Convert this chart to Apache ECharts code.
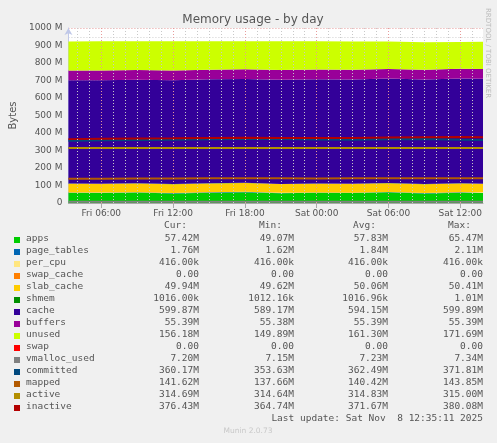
<!DOCTYPE html>
<html><head><meta charset="utf-8">
<script src="https://cdn.jsdelivr.net/npm/echarts@6/dist/echarts.min.js"></script>
<style>html,body{margin:0;background:#f0f0f0}#c{width:497px;height:443px}</style>
</head><body><div id="c"></div>
<script>
// hours since Fri 00:00
var hours = [3.25,6,9,12,15,18,21,24,27,30,33,36,37.9];
var tickHours = [6,12,18,24,30,36];
var tickLabels = ['Fri 06:00','Fri 12:00','Fri 18:00','Sat 00:00','Sat 06:00','Sat 12:00'];
var apps = [58,57,60,55,59,62,56,58,57,61,55,59,57.4];
var page_tables = [1.8,1.9,1.7,1.8,2.0,1.8,1.7,1.9,1.8,1.8,1.9,1.8,1.76];
var per_cpu = [0.416,0.416,0.416,0.416,0.416,0.416,0.416,0.416,0.416,0.416,0.416,0.416,0.416];
var swap_cache = [0,0,0,0,0,0,0,0,0,0,0,0,0];
var slab_cache = [50,50.2,49.8,50.1,50.3,50,49.9,50.1,50.2,49.8,50,50.1,49.94];
var shmem = [1,1,1,1,1,1,1,1,1,1,1,1,1];
var cache = [590,591,592,593,594,594,595,596,596,597,598,599,599.9];
var buffers = [55.4,55.4,55.4,55.4,55.4,55.4,55.4,55.4,55.4,55.4,55.4,55.4,55.39];
var unused = [166,167,164,168,162,159,165,161,161,157,157,153,156.2];
var swap = [0,0,0,0,0,0,0,0,0,0,0,0,0];
var vmalloc_used = [7.2,7.2,7.3,7.2,7.2,7.3,7.2,7.2,7.2,7.3,7.2,7.2,7.2];
var committed = [356,358,360,362,364,366,365,363,362,364,366,361,360.2];
var mapped = [138,139,140,140,141,142,141,140,141,142,142,141,141.6];
var active = [314.7,314.8,314.8,314.9,314.8,314.9,314.8,314.8,314.9,314.8,314.9,314.7,314.7];
var inactive = [365,367,369,370,372,373,372,371,372,374,376,377,376.4];
var legendRows = [
 ['apps','#00CC00','57.42M','49.07M','57.83M','65.47M'],
 ['page_tables','#0066B3','1.76M','1.62M','1.84M','2.11M'],
 ['per_cpu','#FFE680','416.00k','416.00k','416.00k','416.00k'],
 ['swap_cache','#FF8000','0.00','0.00','0.00','0.00'],
 ['slab_cache','#FFCC00','49.94M','49.62M','50.06M','50.41M'],
 ['shmem','#008F00','1016.00k','1012.16k','1016.96k','1.01M'],
 ['cache','#330099','599.87M','589.17M','594.15M','599.89M'],
 ['buffers','#990099','55.39M','55.38M','55.39M','55.39M'],
 ['unused','#CCFF00','156.18M','149.89M','161.30M','171.69M'],
 ['swap','#FF0000','0.00','0.00','0.00','0.00'],
 ['vmalloc_used','#808080','7.20M','7.15M','7.23M','7.34M'],
 ['committed','#00487D','360.17M','353.63M','362.49M','371.81M'],
 ['mapped','#B35A00','141.62M','137.66M','140.42M','143.85M'],
 ['active','#B38F00','314.69M','314.64M','314.83M','315.00M'],
 ['inactive','#B30000','376.43M','364.74M','371.67M','380.08M']
];
var BASE = Date.UTC(2025,10,7);
function t(h){return BASE + h*3600000;}
var stacked = {apps:apps,page_tables:page_tables,per_cpu:per_cpu,swap_cache:swap_cache,slab_cache:slab_cache,shmem:shmem,cache:cache,buffers:buffers,unused:unused,swap:swap};
var lines = {vmalloc_used:vmalloc_used,committed:committed,mapped:mapped,active:active,inactive:inactive};
var colorOf = {}; legendRows.forEach(function(r){colorOf[r[0]]=r[1];});
function pts(a){return hours.map(function(h,i){return [t(h),a[i]];});}
var series = [];
var minorX=[]; for (var h=4; h<=37; h++) if (tickHours.indexOf(h)<0) minorX.push(h);
Object.keys(stacked).forEach(function(k,idx){
  var s={name:k,type:'line',stack:'m',data:pts(stacked[k]),symbol:'none',lineStyle:{width:0},
    areaStyle:{color:colorOf[k],opacity:1},color:colorOf[k],z:2};
  if(idx===0){s.markLine={silent:true,symbol:'none',label:{show:false},z:10,
    data:minorX.map(function(m){return {xAxis:t(m),lineStyle:{color:'#c8c8c8',type:[1,2],width:1}};})
      .concat(tickHours.map(function(m){return {xAxis:t(m),lineStyle:{color:'#e69a9a',type:[1,2],width:1}};}))}}
  series.push(s);
});
Object.keys(lines).forEach(function(k){
  series.push({name:k,type:'line',data:pts(lines[k]),symbol:'none',lineStyle:{width:2,color:colorOf[k]},color:colorOf[k],z:5});
});
var g=[];
var mono='DejaVu Sans Mono';
var hdr=[['Cur:',187],['Min:',282],['Avg:',376],['Max:',471]];
hdr.forEach(function(h){g.push({type:'text',x:h[1],y:221,style:{text:h[0],font:'9.5px '+mono,fill:'#555',align:'right'}});});
legendRows.forEach(function(r,i){
  var y=236+i*12;
  g.push({type:'rect',shape:{x:14,y:y+1,width:6,height:6},style:{fill:r[1]}});
  g.push({type:'text',x:26,y:y-2,style:{text:r[0],font:'9.5px '+mono,fill:'#555'}});
  [199,294,388,483].forEach(function(xr,j){
    g.push({type:'text',x:xr,y:y-2,style:{text:r[2+j],font:'9.5px '+mono,fill:'#555',align:'right'}});
  });
});
g.push({type:'text',x:483,y:414,style:{text:'Last update: Sat Nov  8 12:35:11 2025',font:'9.5px '+mono,fill:'#555',align:'right'}});
g.push({type:'text',x:248,y:427,style:{text:'Munin 2.0.73',font:'7.5px DejaVu Sans',fill:'#c8c8c8',align:'center'}});
g.push({type:'text',x:484,y:8,rotation:-Math.PI/2,style:{text:'RRDTOOL / TOBI OETIKER',font:'7px DejaVu Sans',fill:'#bbbbbb',verticalAlign:'bottom'}});
var chart=echarts.init(document.getElementById('c'));
chart.setOption({
  backgroundColor:'#f0f0f0',animation:false,
  title:{text:'Memory usage - by day',left:248,top:9,textAlign:'center',textStyle:{fontFamily:'DejaVu Sans',fontSize:12,fontWeight:'normal',color:'#555'}},
  grid:{left:67,right:14,top:28,bottom:240,backgroundColor:'#ffffff',show:true,borderWidth:0},
  xAxis:[{type:'time',min:t(3.25),max:t(37.9),show:false},
    {type:'value',min:3.25,max:37.9,position:'bottom',
    axisLine:{lineStyle:{color:'#aaaaaa'}},
    axisTick:{customValues:tickHours,lineStyle:{color:'#aaa'}},
    axisLabel:{customValues:tickHours,formatter:function(v){return tickLabels[tickHours.indexOf(v)];},fontFamily:'DejaVu Sans',fontSize:9,color:'#555',margin:6},
    splitLine:{show:false}}],
  yAxis:{type:'value',min:0,max:1000,interval:100,name:'Bytes',nameLocation:'middle',nameGap:48,
    nameTextStyle:{fontFamily:'DejaVu Sans',fontSize:10,color:'#555'},
    axisLine:{show:true,symbol:['none','arrow'],symbolSize:[6,7],lineStyle:{color:'#c0c8e8'}},
    axisTick:{show:false},
    axisLabel:{formatter:function(v){return v===0?'0':v+' M';},fontFamily:'DejaVu Sans',fontSize:9,color:'#555',margin:6},
    splitLine:{show:true,lineStyle:{color:'#e69a9a',type:[1,2]}},
    minorTick:{show:false,splitNumber:2},
    minorSplitLine:{show:true,lineStyle:{color:'#d0d0d0',type:[1,2]}}},
  graphic:g,
  series:series
});
</script></body></html>
